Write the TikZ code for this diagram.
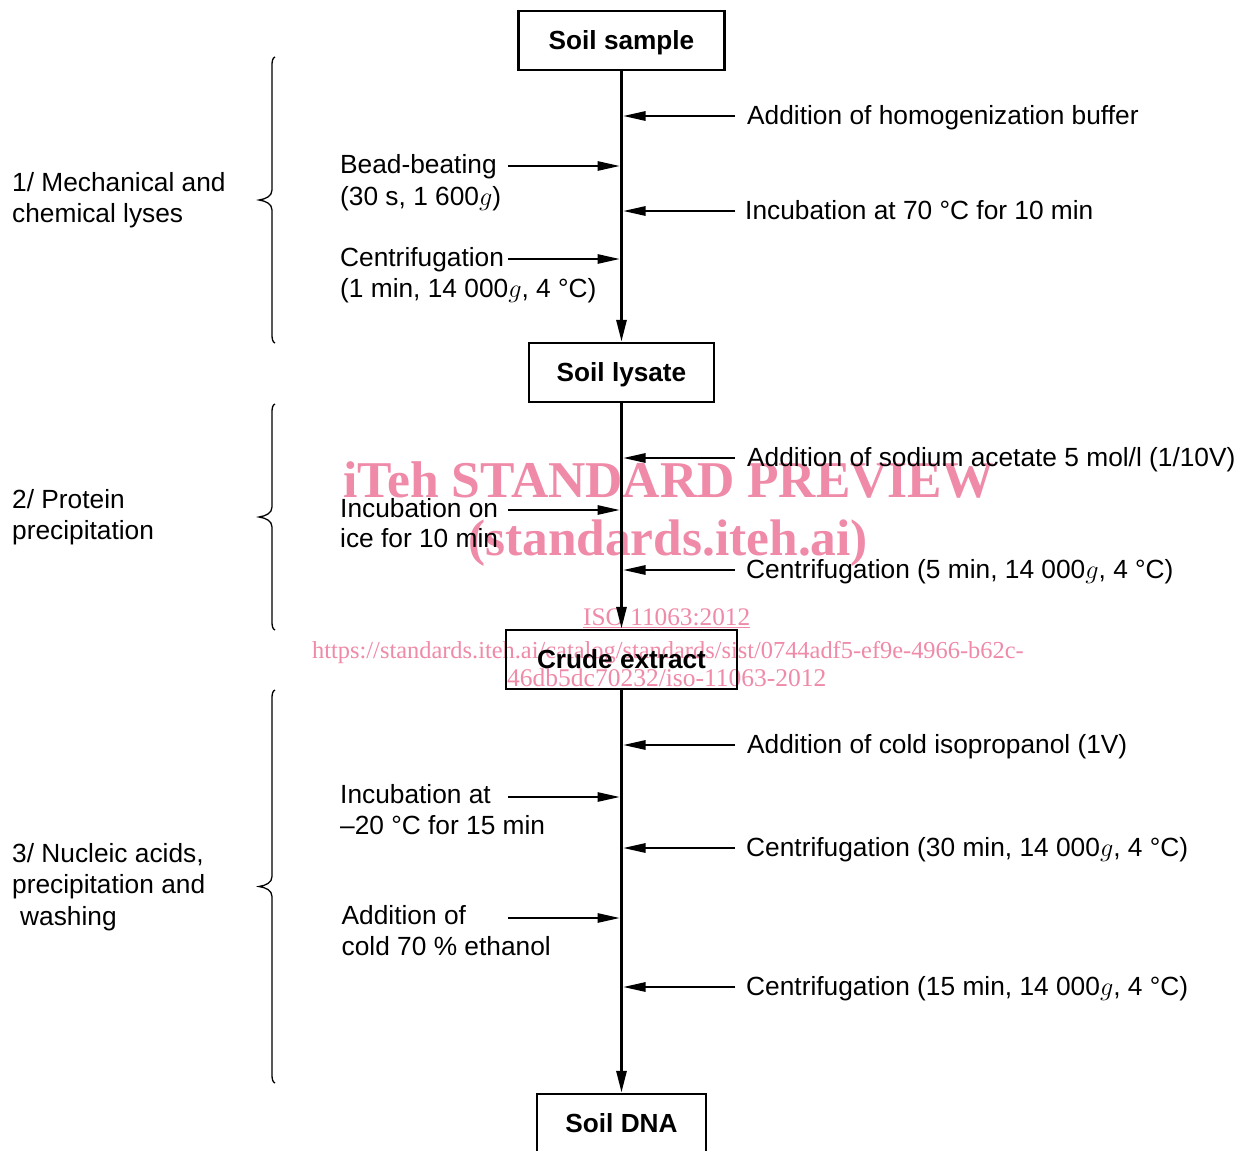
\RequirePackage{fix-cm}
\documentclass[tikz,border=0pt]{standalone}
\usepackage{fontspec}
\setmainfont{Liberation Sans}
\newfontfamily\wmfont{Liberation Serif}
\usetikzlibrary{arrows.meta}
\definecolor{wmpink}{RGB}{239,138,168}
\begin{document}
\begin{tikzpicture}[x=1pt,y=-1pt,
  lbl/.style={anchor=base west, inner sep=0pt, font=\fontsize{26.3}{32}\selectfont},
  stepbox/.style={draw, line width=2.5pt, minimum height=59pt, inner sep=0pt,
    text height=18.6pt, text depth=0pt, font=\fontsize{26.2}{32}\selectfont\bfseries},
  flow/.style={line width=3pt, -{Triangle[length=22pt,width=10pt]}},
  side/.style={line width=1.3pt, -{Triangle[length=22pt,width=9.5pt]}},
  bracepen/.style={line width=1.3pt},
  wm/.style={anchor=base west, inner sep=0pt, text=wmpink},
]
\fill[white] (0,0) rectangle (1243,1151);
\useasboundingbox (0,0) rectangle (1243,1151);

% watermark
\node[wm, font=\wmfont\bfseries\fontsize{51.6}{56}\selectfont] (wm1) at (343,497) {iTeh STANDARD PREVIEW};
\node[wm, font=\wmfont\bfseries\fontsize{51.4}{56}\selectfont] (wm2) at (468,555) {(standards.iteh.ai)};
\node[wm, font=\wmfont\fontsize{25.3}{28}\selectfont] (wm3) at (583,625) {\underline{ISO 11063:2012}};
\node[wm, font=\wmfont\fontsize{24.4}{28}\selectfont] (wm4) at (312,658) {https://standards.iteh.ai/catalog/standards/sist/0744adf5-ef9e-4966-b62c-};
\node[wm, font=\wmfont\fontsize{25.5}{28}\selectfont] (wm5) at (507,686) {46db5dc70232/iso-11063-2012};

% boxes
\node[stepbox, minimum width=206pt] (sample) at (621.5,40.5) {Soil sample};
\node[stepbox, minimum width=185pt] (lysate) at (621.5,372.5) {Soil lysate};
\node[stepbox, minimum width=231pt] (crude) at (621.5,659.5) {Crude extract};
\node[stepbox, minimum width=169pt] (dna) at (621.5,1123.5) {Soil DNA};

% main flow
\draw[flow] (sample.south) -- (lysate.north);
\draw[flow] (lysate.south) -- (crude.north);
\draw[flow] (crude.south) -- (dna.north);

% right side inputs
\coordinate (rt1) at (735,116); \coordinate (rh1) at (623.5,116);
\coordinate (rt2) at (735,211); \coordinate (rh2) at (623.5,211);
\coordinate (rt3) at (735,458); \coordinate (rh3) at (623.5,458);
\coordinate (rt4) at (735,570); \coordinate (rh4) at (623.5,570);
\coordinate (rt5) at (735,745); \coordinate (rh5) at (623.5,745);
\coordinate (rt6) at (735,848); \coordinate (rh6) at (623.5,848);
\coordinate (rt7) at (735,987); \coordinate (rh7) at (623.5,987);
\foreach \i in {1,...,7} {\draw[side] (rt\i) -- (rh\i);}

\node[lbl] (r1) at (747,124.5) {Addition of homogenization buffer};
\node[lbl] (r2) at (745,219.5) {Incubation at 70 °C for 10 min};
\node[lbl] (r3) at (747,466.5) {Addition of sodium acetate 5 mol/l (1/10V)};
\node[lbl] (r4) at (746,578.5) {Centrifugation (5 min, 14 000$g$, 4 °C)};
\node[lbl] (r5) at (747,753.5) {Addition of cold isopropanol (1V)};
\node[lbl] (r6) at (746,856.5) {Centrifugation (30 min, 14 000$g$, 4 °C)};
\node[lbl] (r7) at (746,995.5) {Centrifugation (15 min, 14 000$g$, 4 °C)};

% left side inputs
\coordinate (lt1) at (508,166); \coordinate (lh1) at (619.5,166);
\coordinate (lt2) at (508,259); \coordinate (lh2) at (619.5,259);
\coordinate (lt3) at (508,510); \coordinate (lh3) at (619.5,510);
\coordinate (lt4) at (508,797); \coordinate (lh4) at (619.5,797);
\coordinate (lt5) at (508,918); \coordinate (lh5) at (619.5,918);
\foreach \i in {1,...,5} {\draw[side] (lt\i) -- (lh\i);}

\node[lbl] (l1a) at (340,173.5) {Bead-beating};
\node[lbl] (l1b) at (340,205) {(30 s, 1 600$g$)};
\node[lbl] (l2a) at (340,266.5) {Centrifugation};
\node[lbl] (l2b) at (340,297.5) {(1 min, 14 000$g$, 4 °C)};
\node[lbl] (l3a) at (340,517) {Incubation on};
\node[lbl] (l3b) at (340,547.5) {ice for 10 min};
\node[lbl] (l4a) at (340,803.5) {Incubation at};
\node[lbl] (l4b) at (340,834.5) {–20 °C for 15 min};
\node[lbl] (l5a) at (341.5,924.5) {Addition of};
\node[lbl] (l5b) at (341.5,955) {cold 70 \% ethanol};

% stage labels
\node[lbl] (s1a) at (12,191.5) {1/ Mechanical and};
\node[lbl] (s1b) at (12,222.5) {chemical lyses};
\node[lbl] (s2a) at (12,508.5) {2/ Protein};
\node[lbl] (s2b) at (12,539.5) {precipitation};
\node[lbl] (s3a) at (12,862.5) {3/ Nucleic acids,};
\node[lbl] (s3b) at (12,893.5) {precipitation and};
\node[lbl] (s3c) at (20,925) {washing};

% braces
\draw[bracepen] (275,57) .. controls (272.5,58) and (272,61) .. (272,66) -- (272,190)
  .. controls (272,196) and (266,199) .. (259,200) .. controls (266,201) and (272,204) .. (272,210)
  -- (272,334) .. controls (272,339) and (272.5,342) .. (275,343);
\draw[bracepen] (275,404) .. controls (272.5,405) and (272,408) .. (272,413) -- (272,507)
  .. controls (272,513) and (266,516) .. (259,517) .. controls (266,518) and (272,521) .. (272,527)
  -- (272,621) .. controls (272,626) and (272.5,629) .. (275,630);
\draw[bracepen] (275,690) .. controls (272.5,691) and (272,694) .. (272,699) -- (272,876.5)
  .. controls (272,882.5) and (266,885.5) .. (259,886.5) .. controls (266,887.5) and (272,890.5) .. (272,896.5)
  -- (272,1074) .. controls (272,1079) and (272.5,1082) .. (275,1083);
\end{tikzpicture}
\end{document}
